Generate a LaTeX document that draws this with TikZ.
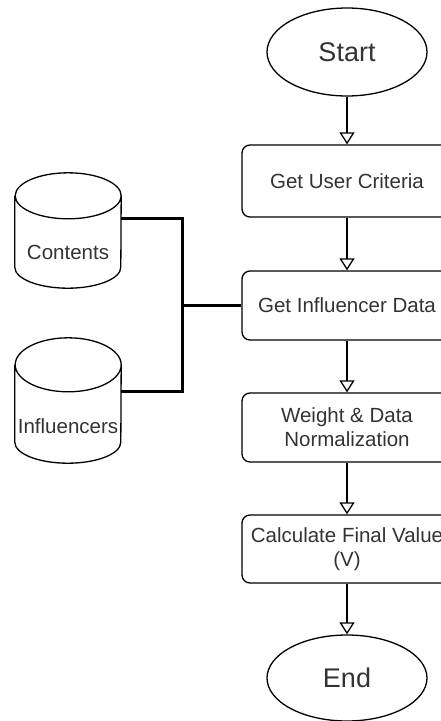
\documentclass[tikz,border=0pt]{standalone}
\usepackage{fontspec}
\setmainfont{Liberation Sans}
\usetikzlibrary{shapes.geometric,arrows.meta}
\definecolor{txtgray}{rgb}{0.2,0.2,0.2}
\tikzset{
  every node/.style={font=\fontsize{20.5}{24}\selectfont, text=txtgray},
  terminal/.style={ellipse, draw, line width=1.3pt, minimum width=160pt, minimum height=88pt, inner sep=0pt, font=\fontsize{27}{30}\selectfont},
  process/.style={rectangle, rounded corners=8pt, draw, line width=1.3pt, minimum width=210pt, minimum height=69pt, align=center, inner sep=0pt},
  store/.style={rectangle, minimum width=106pt, inner sep=0pt},
  flow/.style={-{Triangle[open,length=12pt,width=15pt]}, line width=1.3pt},
  feed/.style={line width=3pt, line join=miter}
}
% outline of a data store around node #1, top cap radius #2
\newcommand\drawstore[2]{%
  \draw[line width=1.3pt] ([yshift=-#2]#1.north west) -- ([yshift=21pt]#1.south west)
    arc[start angle=180, end angle=360, x radius=53pt, y radius=21pt]
    -- ([yshift=-#2]#1.north east)
    arc[start angle=0, end angle=180, x radius=53pt, y radius=#2]
    arc[start angle=180, end angle=360, x radius=53pt, y radius=#2];
}

\begin{document}
\begin{tikzpicture}[x=1pt,y=-1pt]
\useasboundingbox (0,0) rectangle (441,721);
\clip (0,0) rectangle (441,721);

% main flow
\node[terminal] (start) at (347,52) {Start};
\node[process, minimum height=72pt] (criteria) at (347,181) {Get User Criteria};
\node[process] (fetch) at (347,305.5) {Get Influencer Data};
\node[process] (normalize) at (347,427.5) {Weight \& Data\\Normalization};
\node[process, minimum height=68pt] (calc) at (347,549) {Calculate Final Value\\(V)};
\node[terminal, minimum height=86pt] (end) at (347,678) {End};

% data stores
\node[store, minimum height=115pt, label={[yshift=-22pt]center:Contents}] (contents) at (68,230.5) {};
\node[store, minimum height=125pt, label={[yshift=-26pt]center:Influencers}] (influencers) at (68,400.5) {};
\drawstore{contents}{23pt}
\drawstore{influencers}{27pt}

\draw[flow] (start) -- (criteria);
\draw[flow] (criteria) -- (fetch);
\draw[flow] (fetch) -- (normalize);
\draw[flow] (normalize) -- (calc);
\draw[flow] (calc) -- (end);

\coordinate (hub) at (182,305.5);
\draw[feed] ([yshift=-46pt]contents.north east) -| (hub) |- ([yshift=-54pt]influencers.north east);
\draw[feed] (hub) -- (fetch.west);
\end{tikzpicture}
\end{document}
